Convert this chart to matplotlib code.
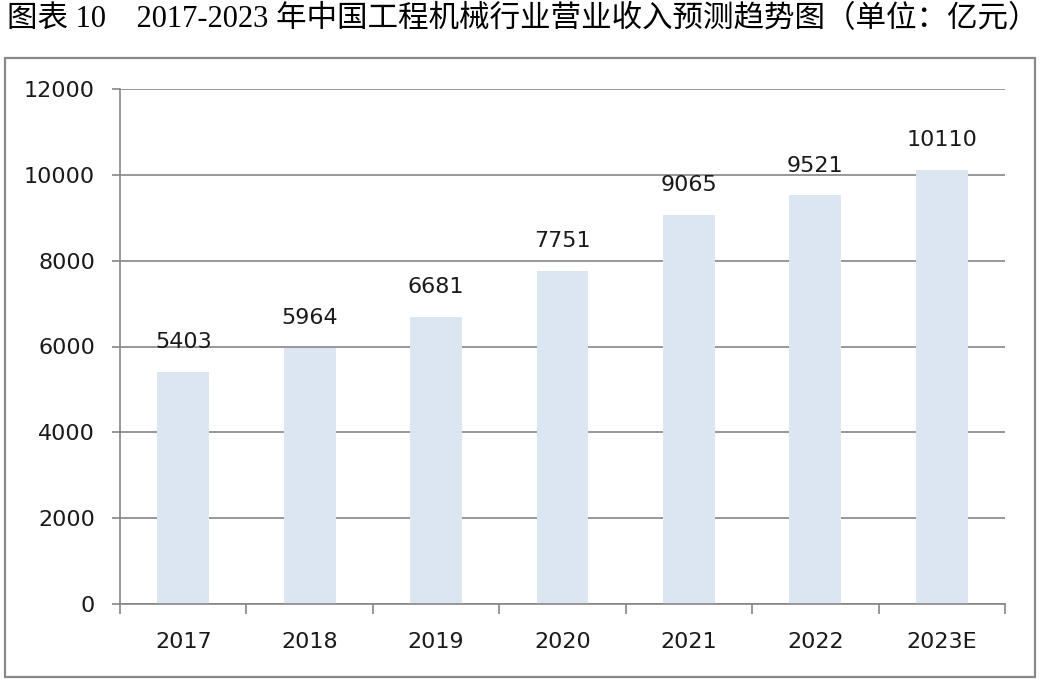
import matplotlib.pyplot as plt
from matplotlib.patches import Rectangle

years = ['2017', '2018', '2019', '2020', '2021', '2022', '2023E']
revenue = [5403, 5964, 6681, 7751, 9065, 9521, 10110]
y_ticks = [0, 2000, 4000, 6000, 8000, 10000, 12000]
title = '图表 10\u30002017-2023 年中国工程机械行业营业收入预测趋势图（单位：亿元）'

W, H = 1040, 682
fig = plt.figure(figsize=(W / 100, H / 100), dpi=100)
ax = fig.add_axes([120 / W, 1 - 604 / H, (1005 - 120) / W, (604 - 89) / H])

# outer chart frame
fig.patches.append(Rectangle(
    (5 / W, 1 - 677 / H), 1030 / W, (677 - 58) / H,
    transform=fig.transFigure, fill=False, edgecolor='#888888', lw=1.6
))

fig.text(7 / W, 1 - 20 / H, title, ha='left', va='center', fontsize=22,
         family=['Liberation Serif', 'Noto Sans CJK SC'], color='#000000')

x = range(len(years))
bars = ax.bar(x, revenue, width=0.41, color='#dce6f2', zorder=2)
for xi, v in zip(x, revenue):
    ax.annotate(str(v), (xi, v), xytext=(0, 21.5), textcoords='offset points',
                ha='center', va='center', fontsize=16, color='#1a1a1a',
                family='DejaVu Sans', zorder=3)

ax.set_xlim(-0.5, len(years) - 0.5)
ax.set_ylim(0, 12000)
ax.set_yticks(y_ticks)
ax.set_yticklabels([str(t) for t in y_ticks])
ax.set_xticks(list(x))
ax.set_xticklabels(years)
ax.set_xticks([i - 0.5 for i in range(len(years) + 1)], minor=True)
ax.tick_params(axis='x', which='major', length=0, pad=20, labelsize=16, labelcolor='#1a1a1a')
ax.tick_params(axis='x', which='minor', length=7, color='#868686', width=1.2, direction='out')
ax.tick_params(axis='y', length=6, color='#868686', width=1.2, pad=12, labelsize=16,
               labelcolor='#1a1a1a')
ax.yaxis.grid(True, color='#868686', lw=1.2, zorder=0)
ax.set_axisbelow(True)
for s in ['top', 'right']:
    ax.spines[s].set_visible(False)
for s in ['left', 'bottom']:
    ax.spines[s].set_color('#868686')
    ax.spines[s].set_linewidth(1.2)

fig.savefig('out.png', dpi=100)
